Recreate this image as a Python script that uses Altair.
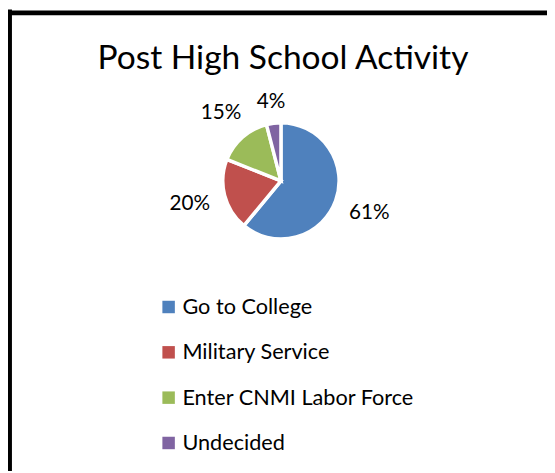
import altair as alt
import pandas as pd

categories = ["Go to College", "Military Service", "Enter CNMI Labor Force", "Undecided"]
values = [61, 20, 15, 4]
colors = ["#4F81BD", "#C0504D", "#9BBB59", "#8064A2"]
title_text = "Post High School Activity"

df = pd.DataFrame({"category": categories, "value": values, "order": list(range(len(categories)))})

FONT = "Lato"
CX, CY = 277, 172

pie = alt.Chart(df).mark_arc(radius=59, stroke="white", strokeWidth=3.5).encode(
    theta=alt.Theta("value:Q", stack=True),
    order=alt.Order("order:Q"),
    x=alt.value(CX), y=alt.value(CY),
    color=alt.Color(
        "category:N",
        scale=alt.Scale(domain=categories, range=colors),
        sort=categories,
        legend=alt.Legend(
            title=None, orient="none", legendX=152, legendY=289,
            symbolType="square", symbolSize=160, symbolStrokeWidth=0,
            labelFontSize=22, labelFont=FONT, labelColor="black",
            rowPadding=24, labelOffset=3, labelLimit=400,
        ),
    ),
)

# label placement outside the pie, pushed out by half the label box
labels = (
    alt.Chart(df)
    .transform_window(cum="sum(value)", sort=[alt.SortField("order")])
    .transform_joinaggregate(total="sum(value)")
    .transform_calculate(
        lbl="datum.value + '%'",
        mid="(datum.cum - datum.value / 2) / datum.total * 2 * PI",
    )
    .transform_calculate(
        r="73 + 7.2 * length(datum.lbl) * abs(sin(datum.mid)) + 6 * abs(cos(datum.mid))"
    )
    .mark_text(fontSize=21, font=FONT, color="black")
    .encode(
        x=alt.value(CX), y=alt.value(CY), text="lbl:N",
        theta=alt.Theta("mid:Q", scale=None, stack=False),
        radius=alt.Radius("r:Q", scale=None),
    )
)

title = alt.Chart(pd.DataFrame({"t": [title_text]})).mark_text(
    fontSize=34, font=FONT, color="black", baseline="alphabetic"
).encode(x=alt.value(279), y=alt.value(58), text="t:N")

border_df = pd.DataFrame({"k": [0]})
top_rule = alt.Chart(border_df).mark_rule(color="black", strokeWidth=5).encode(
    x=alt.value(-2), x2=alt.value(550), y=alt.value(1.5)
)
left_rule = alt.Chart(border_df).mark_rule(color="black", strokeWidth=5).encode(
    x=alt.value(1.5), y=alt.value(-2), y2=alt.value(470)
)

chart = alt.layer(pie, labels, title, top_rule, left_rule).properties(
    width=547, height=463,
    autosize=alt.AutoSizeParams(type="none"),
    padding=0,
    background="white",
).configure_view(stroke=None)

chart.save("out.html", embed_options={"renderer": "svg", "actions": False})
